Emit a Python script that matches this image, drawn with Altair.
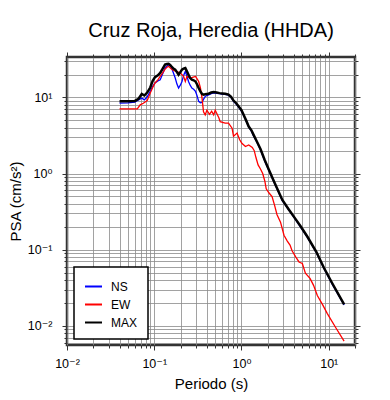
import altair as alt
import pandas as pd

# ---- data ----
ns_period = [0.040, 0.050, 0.060, 0.066, 0.072, 0.077, 0.083, 0.090, 0.096, 0.102, 0.110, 0.117,
             0.125, 0.133, 0.140, 0.146, 0.152, 0.158, 0.166, 0.174, 0.182, 0.190, 0.199, 0.208,
             0.217, 0.227, 0.237, 0.247, 0.258, 0.270, 0.283, 0.297, 0.310, 0.323, 0.338, 0.353,
             0.368, 0.384, 0.40, 0.42, 0.45, 0.48, 0.52, 0.56, 0.60, 0.65, 0.71, 0.76, 0.81, 0.87,
             0.93, 1.00, 1.06, 1.13, 1.21, 1.30, 1.38, 1.50, 1.65, 1.85, 2.06, 2.4, 2.94, 3.5,
             4.0, 4.8, 5.7, 7.2, 8.8, 11.0, 15.0]
ns_psa = [8.4, 8.5, 8.7, 9.3, 9.8, 9.3, 10.2, 12.0, 14.0, 15.5, 16.5, 17.1,
          20.5, 24.4, 26.0, 26.9, 26.0, 24.4, 21.0, 18.0, 15.0, 13.3, 14.5, 16.2,
          19.5, 22.0, 19.0, 16.2, 14.5, 13.3, 12.8, 12.0, 10.5, 8.9, 8.5, 8.6,
          9.5, 10.3, 10.6, 10.8, 11.2, 11.5, 11.3, 11.2, 11.1, 11.0, 10.7, 10.0, 8.9, 8.2,
          7.4, 6.6, 5.8, 4.9, 4.1, 3.6, 3.1, 2.6, 2.05, 1.45, 1.1, 0.74, 0.44, 0.33,
          0.265, 0.195, 0.145, 0.092, 0.057, 0.035, 0.0188]

max_period = ns_period
max_psa = [8.9, 8.9, 9.0, 9.6, 11.1, 10.6, 11.6, 13.5, 16.5, 18.5, 19.5, 21.0,
           24.0, 27.0, 27.5, 27.7, 26.8, 25.5, 24.0, 23.2, 21.5, 19.9, 21.5, 23.2,
           24.0, 24.4, 22.0, 19.9, 18.0, 17.1, 16.8, 16.2, 14.8, 13.3, 12.0, 11.1,
           10.9, 11.0, 11.1, 11.2, 11.6, 11.8, 11.6, 11.4, 11.3, 11.2, 10.9, 10.2, 9.1, 8.4,
           7.6, 6.8, 5.9, 5.0, 4.15, 3.7, 3.2, 2.64, 2.1, 1.5, 1.12, 0.75, 0.45, 0.335,
           0.27, 0.2, 0.148, 0.094, 0.058, 0.036, 0.0191]

ew_period = [0.040, 0.050, 0.060, 0.064, 0.069, 0.075, 0.083, 0.090, 0.096, 0.102, 0.110, 0.117,
             0.125, 0.133, 0.140, 0.146, 0.155, 0.166, 0.180, 0.199, 0.217, 0.227, 0.237, 0.247,
             0.26, 0.28, 0.297, 0.31, 0.323, 0.338, 0.353, 0.367, 0.384, 0.401, 0.43, 0.455,
             0.48, 0.50, 0.55, 0.57, 0.65, 0.71, 0.78, 0.81, 0.89, 0.95, 1.01, 1.11, 1.21, 1.33,
             1.40, 1.47, 1.55, 1.65, 1.75, 1.85, 1.92, 2.06, 2.24, 2.4, 2.55, 2.8, 3.07, 3.35,
             3.6, 3.8, 4.2, 4.56, 4.98, 5.4, 6.1, 6.7, 7.4, 8.5, 9.6, 12.0, 15.0]
ew_psa = [7.1, 7.1, 7.1, 7.1, 8.0, 8.4, 9.1, 11.4, 13.5, 15.5, 17.0, 18.9,
          21.0, 23.6, 25.0, 25.6, 24.0, 22.6, 22.0, 21.0, 18.9, 16.2, 18.9, 18.5,
          18.0, 18.5, 18.9, 17.5, 16.2, 13.5, 9.8, 6.5, 5.9, 6.8, 6.0, 6.6,
          5.9, 6.8, 5.4, 4.8, 4.6, 4.6, 3.95, 3.1, 3.4, 2.8, 2.5, 2.27, 2.38, 2.2,
          2.0, 1.6, 1.3, 1.15, 1.0, 0.8, 0.63, 0.56, 0.50, 0.38, 0.29, 0.23, 0.155, 0.13,
          0.115, 0.097, 0.08, 0.069, 0.066, 0.049, 0.042, 0.034, 0.025, 0.019, 0.0146, 0.0095, 0.0063]

series_names = ["NS", "EW", "MAX"]
series_colors = ["#0000ff", "#ff0000", "#000000"]

x_grid = [0.01, 0.02, 0.03, 0.04, 0.05, 0.06, 0.07, 0.08, 0.09,
          0.1, 0.2, 0.3, 0.4, 0.5, 0.6, 0.7, 0.8, 0.9,
          1, 2, 3, 4, 5, 6, 7, 8, 9, 10, 20]
y_grid = [0.006, 0.007, 0.008, 0.009,
          0.01, 0.02, 0.03, 0.04, 0.05, 0.06, 0.07, 0.08, 0.09,
          0.1, 0.2, 0.3, 0.4, 0.5, 0.6, 0.7, 0.8, 0.9,
          1, 2, 3, 4, 5, 6, 7, 8, 9, 10, 20, 30]

FONT = "Liberation Sans, Helvetica, Arial, DejaVu Sans, sans-serif"
decade_test = "datum.value == 0.01 || datum.value == 0.1 || datum.value == 1 || datum.value == 10"
label_expr = ("datum.value == 0.01 ? '10\u207b\u00b2' : datum.value == 0.1 ? '10\u207b\u00b9' : "
              "datum.value == 1 ? '10\u2070' : datum.value == 10 ? '10\u00b9' : ''")
tick_size = {"condition": {"test": decade_test, "value": 5}, "value": 3}

ns_df = pd.DataFrame({"T": ns_period, "PSA": ns_psa, "comp": "NS"})
ew_df = pd.DataFrame({"T": ew_period, "PSA": ew_psa, "comp": "EW"})
mx_df = pd.DataFrame({"T": max_period, "PSA": max_psa, "comp": "MAX"})

x_scale = alt.Scale(type="log", domain=[0.01, 20], nice=False)
y_scale = alt.Scale(type="log", domain=[0.0056, 34], nice=False)
color_scale = alt.Scale(domain=series_names, range=series_colors)

x_axis = alt.Axis(values=x_grid, grid=True, gridColor="#8a8a8a", gridWidth=0.8,
                  domain=False, tickColor="#333333", tickSize=tick_size, tickWidth=1,
                  labelExpr=label_expr, labelFont=FONT, labelFontSize=12.5, labelColor="black",
                  labelPadding=7, labelOverlap=False, labelFlush=False,
                  title="Periodo (s)", titleFont=FONT, titleFontSize=15,
                  titleFontWeight="normal", titleColor="black", titlePadding=7)
y_axis = alt.Axis(values=y_grid, grid=True, gridColor="#8a8a8a", gridWidth=0.8,
                  domain=False, tickColor="#333333", tickSize=tick_size, tickWidth=1,
                  labelExpr=label_expr, labelFont=FONT, labelFontSize=12.5, labelColor="black",
                  labelPadding=10, labelOverlap=False, labelFlush=False,
                  title="PSA (cm/s\u00b2)", titleFont=FONT, titleFontSize=15,
                  titleFontWeight="normal", titleColor="black", titlePadding=4)

legend = alt.Legend(orient="none", legendX=7, legendY=210, title=None,
                    symbolType="stroke", symbolSize=289, symbolStrokeWidth=2,
                    labelFont=FONT, labelFontSize=12, labelColor="black", labelOffset=8,
                    fillColor="white", strokeColor="black", padding=10, rowPadding=2)


def line_layer(df, width, with_axes):
    xa = x_axis if with_axes else None
    ya = y_axis if with_axes else None
    return alt.Chart(df).mark_line(strokeWidth=width, clip=True).encode(
        x=alt.X("T:Q", scale=x_scale, axis=xa),
        y=alt.Y("PSA:Q", scale=y_scale, axis=ya),
        color=alt.Color("comp:N", scale=color_scale, legend=legend),
    )


ns_layer = line_layer(ns_df, 1.3, True)
ew_layer = line_layer(ew_df, 1.3, False)
mx_layer = line_layer(mx_df, 2.5, False)

frame_layer = alt.Chart(mx_df).mark_line(opacity=0).encode(
    x=alt.X("T:Q", scale=x_scale,
            axis=alt.Axis(orient="top", values=x_grid, grid=False, labels=False, domain=False,
                          tickColor="#333333", tickSize=tick_size, title=None)),
    y=alt.Y("PSA:Q", scale=y_scale,
            axis=alt.Axis(orient="right", values=y_grid, grid=False, labels=False, domain=False,
                          tickColor="#333333", tickSize=tick_size, title=None)),
)

chart = alt.layer(ns_layer, ew_layer, mx_layer, frame_layer).resolve_axis(
    x="independent", y="independent"
).properties(
    width=288, height=288,
    title=alt.TitleParams("Cruz Roja, Heredia (HHDA)", font=FONT, fontSize=20,
                          fontWeight="normal", color="black", anchor="middle", offset=11),
    autosize=alt.AutoSizeParams(type="none"),
    padding={"left": 59, "top": 49, "right": 20, "bottom": 52},
).configure_view(
    stroke="#333333", strokeWidth=2.5
).configure_legend(
    strokeWidth=1.5
)

chart.save("out.html", embed_options={"renderer": "svg", "actions": False})
